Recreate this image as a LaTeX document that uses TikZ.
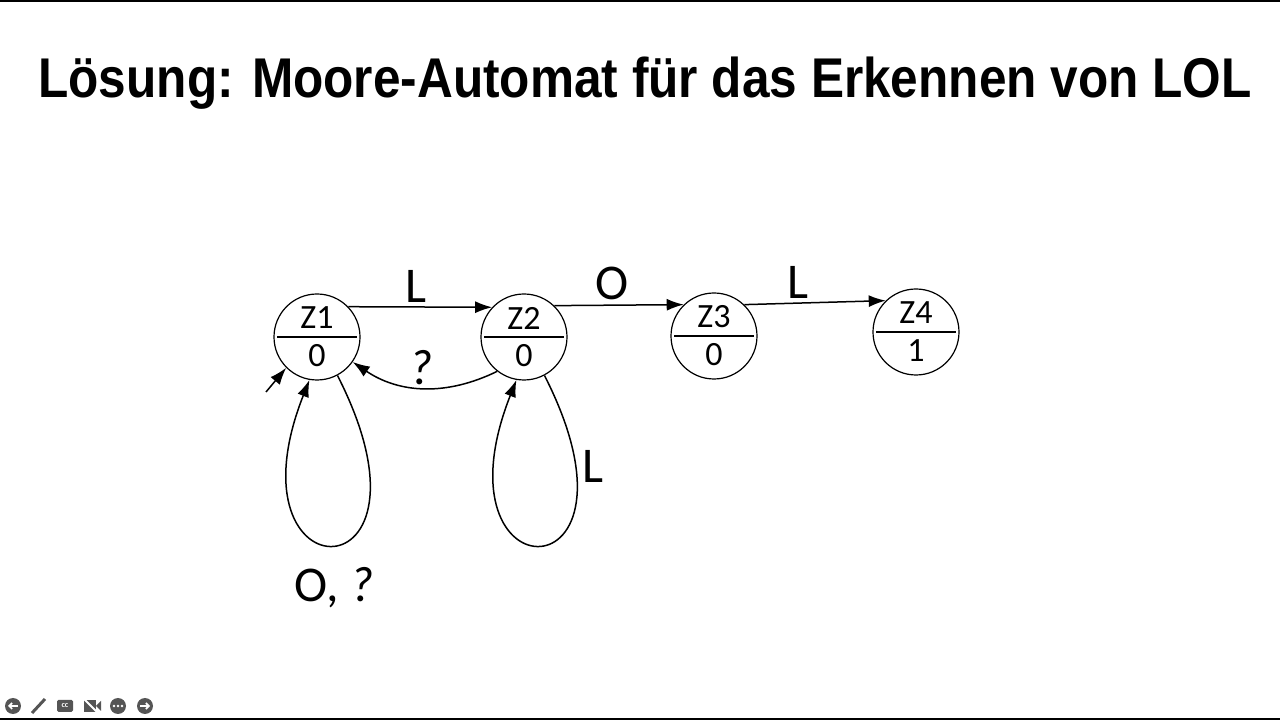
\documentclass[tikz,border=0pt]{standalone}
\usepackage{fontspec}
\setmainfont{Carlito}
\newfontfamily\titlefont{Liberation Sans}
\usetikzlibrary{arrows.meta}
\definecolor{ctrl}{HTML}{555555}

\begin{document}
\begin{tikzpicture}[
  x=1pt, y=1pt,
  every node/.style = {inner sep=2pt},
  state/.style = {circle, draw, line width=1.2pt, minimum size=86pt, inner sep=0pt},
  trans/.style = {line width=1.5pt, -{Latex[length=17pt,width=12pt]}},
  lab/.style = {font=\fontsize{50}{50}\selectfont},
  inlab/.style = {font=\fontsize{34}{34}\selectfont}
]
  \useasboundingbox (0,0) rectangle (1280,720);
  \draw[line width=2pt] (0,719) -- (1280,719);
  \draw[line width=2pt] (0,1) -- (1280,1);

  \node[anchor=base] (title) at (645,622)
    {\scalebox{0.885}[1]{\titlefont\bfseries\fontsize{56}{60}\selectfont L\"osung: Moore-Automat f\"ur das Erkennen von LOL}};

  \foreach \n/\x/\y/\o in {Z1/317/383/0, Z2/524/383/0, Z3/714/384/0, Z4/916/388/1} {
    \node[state] (\n) at (\x,\y) {};
    \draw[line width=1.5pt] ([xshift=4pt]\n.west) -- ([xshift=-4pt]\n.east);
    \node[inlab] at ([yshift=19pt]\n.center) {\n};
    \node[inlab] at ([yshift=-19pt]\n.center) {\o};
  }

  \coordinate (init) at (266,328);
  \draw[trans] (init) -- (Z1.225);

  \draw[trans] (Z1.44) -- node[lab, above=2pt, pos=0.47] {L} (Z2.137);
  \draw[trans] (Z2.46) -- node[lab, above=3pt, pos=0.45] {O} (Z3.134);
  \draw[trans] (Z3.46) -- node[lab, above=2pt, pos=0.38] {L} (Z4.134);
  \draw[trans] (Z2.232) to[out=206, in=-34] node[lab, above=0pt, pos=0.52] {\itshape ?} (Z1.-35);

  \draw[trans] (Z1.-62) .. controls +(115,-225) and +(-87,-220) .. node[lab, below=20pt, pos=0.5] {O, \itshape ?} (Z1.-100);
  \draw[trans] (Z2.-62) .. controls +(115,-225) and +(-87,-220) .. node[lab, right=4pt, pos=0.16] {L} (Z2.-100);

  \fill[ctrl] (13,14) circle (8);
  \draw[white, line width=1.6pt, -{Straight Barb[length=3pt,width=6pt]}] (18,14) -- (8,14);
  \draw[ctrl, line width=3pt] (32,7) -- (45,21);
  \fill[ctrl, rounded corners=1.5pt] (57,8) rectangle (73,20);
  \node[white, font=\bfseries\fontsize{8}{8}\selectfont, inner sep=0pt] at (65,14) {cc};
  \fill[ctrl] (84,8) rectangle (96,20);
  \fill[ctrl] (96,14) -- (101,19) -- (101,9) -- cycle;
  \draw[white, line width=2pt] (84,21) -- (98,7);
  \fill[ctrl] (118,14) circle (8);
  \foreach \d in {-4,0,4} \fill[white] (118+\d,14) circle (1.3);
  \fill[ctrl] (145,14) circle (8);
  \draw[white, line width=1.6pt, -{Straight Barb[length=3pt,width=6pt]}] (140,14) -- (150,14);
\end{tikzpicture}
\end{document}
